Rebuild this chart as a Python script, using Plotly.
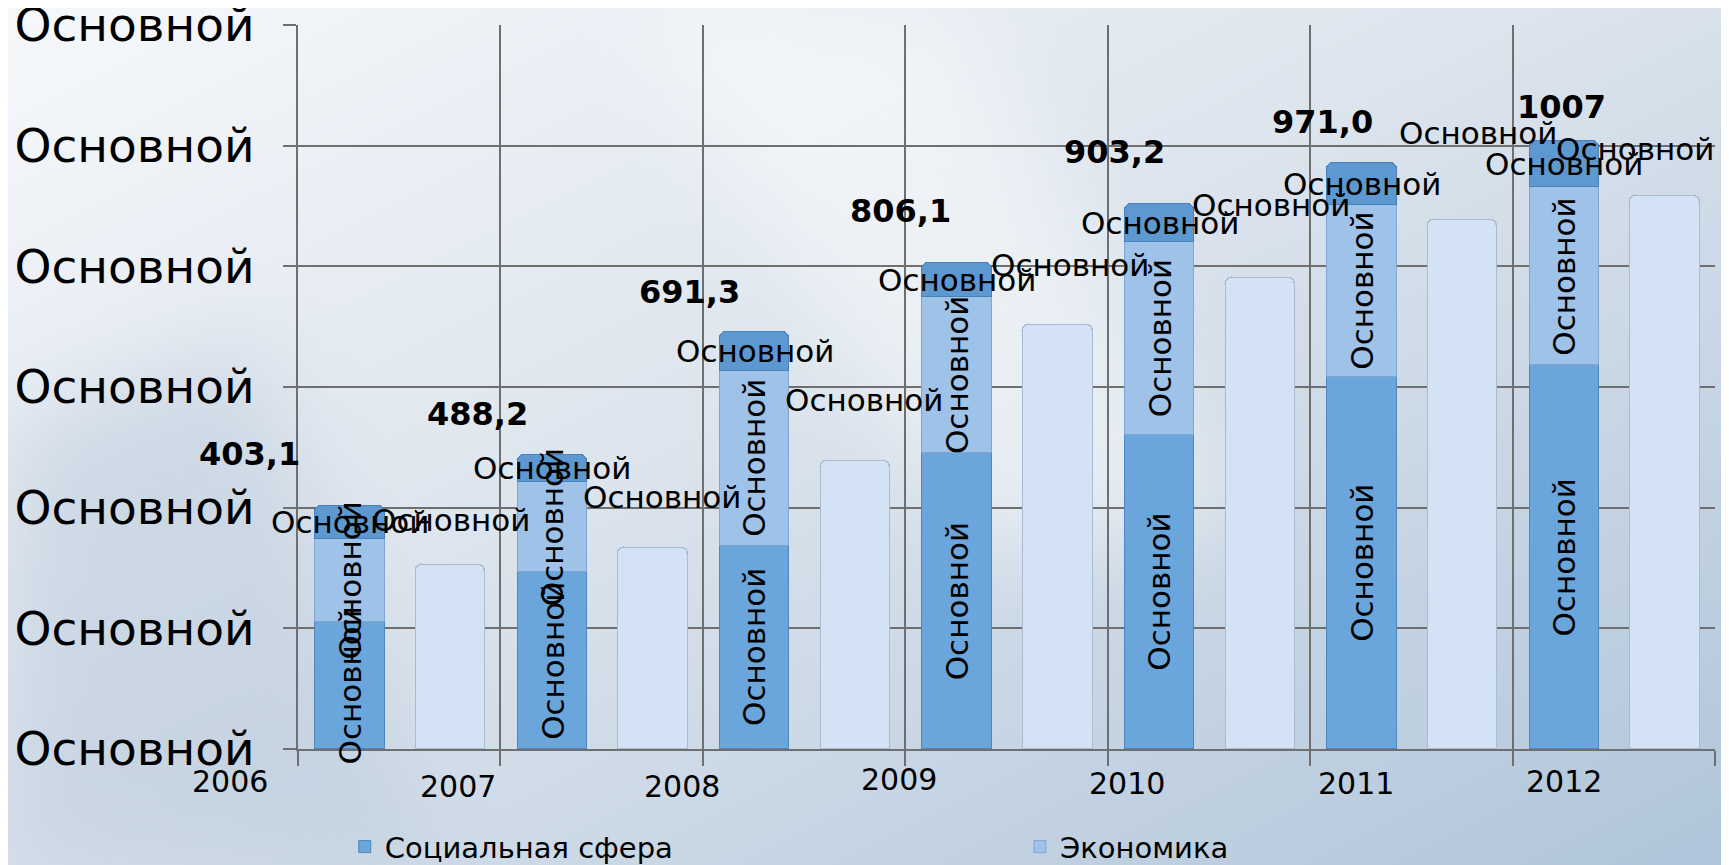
import base64
import plotly.graph_objects as go

# ---------------- data ----------------
years = ["2006", "2007", "2008", "2009", "2010", "2011", "2012"]
social = [210, 293, 337, 490, 520, 617, 636]        # Социальная сфера (bottom)
economy = [138, 150, 290, 260, 320, 285, 295]       # Экономика (middle)
other = [55, 45, 64, 56, 63, 69, 76]                # top segment
light = [305, 333, 477, 702, 781, 876, 916]         # light bars
total_labels = ["403,1", "488,2", "691,3", "806,1", "903,2", "971,0", "1007"]
seg_text = "Основной"
y_ticks = [0, 200, 400, 600, 800, 1000, 1200]
y_ticktext = ["Основной"] * 7

# ---------------- style / layout helpers ----------------
FONT = "DejaVu Sans"
n = len(years)
x_main = [i + 0.256 for i in range(n)]
x_light = [i + 0.754 for i in range(n)]
BW = 0.343
GRID = "#6f6f6f"

# label shifts (pixels)
tot_dx = [-100, -75, -65, -57, -45, -39, -3]
tot_dy = [52, 41, 40, 52, 52, 41, 34]
lt_dx = [0, 9, 9, 12, 11, 15, -30]
lt_dy = [45, 51, 61, 60, 73, 87, 47]
year_x = [-0.338, 0.79, 1.895, 2.968, 4.096, 5.229, 6.253]   # in category units
year_dy = [-32, -37, -37, -30, -34, -34, -32]

fig = go.Figure()
fig.add_bar(x=x_main, y=social, name="Социальная сфера", width=BW, legend="legend",
            marker=dict(color="#6aa6db", line=dict(color="#4f86bd", width=1)))
fig.add_bar(x=x_main, y=economy, name="Экономика", width=BW, legend="legend2",
            marker=dict(color="#9fc2e8", line=dict(color="#7fa6d2", width=1)))
fig.add_bar(x=x_main, y=other, name="Прочие", width=BW, showlegend=False,
            marker=dict(color="#5e98d0", line=dict(color="#4a80b8", width=1), cornerradius=7))
fig.add_bar(x=x_light, y=light, name="Всего", showlegend=False, width=BW,
            marker=dict(color="#d3e2f4", line=dict(color="#a9bbd0", width=1.5), cornerradius=7))

lab_font = dict(family=FONT, size=31, color="black")
ann = []
for i in range(n):
    s, e, o = social[i], economy[i], other[i]
    # segment labels (drawn above all bars, as in the reference)
    ann.append(dict(x=x_main[i], y=s / 2, xref="x", yref="y", text=seg_text,
                    textangle=-90, showarrow=False, font=lab_font))
    ann.append(dict(x=x_main[i], y=s + e / 2, xref="x", yref="y", text=seg_text,
                    textangle=-90, showarrow=False, font=lab_font))
    ann.append(dict(x=x_main[i], y=s + e + o / 2, xref="x", yref="y", text=seg_text,
                    showarrow=False, font=lab_font))
    ann.append(dict(x=x_main[i], y=s + e + o, xref="x", yref="y",
                    text="<b>%s</b>" % total_labels[i], showarrow=False,
                    xshift=tot_dx[i], yshift=tot_dy[i],
                    font=dict(family=FONT, size=32, color="black")))
    ann.append(dict(x=x_light[i], y=light[i], xref="x", yref="y", text=seg_text,
                    showarrow=False, xshift=lt_dx[i], yshift=lt_dy[i], font=lab_font))
    ann.append(dict(x=year_x[i] / 7.0, y=0, xref="paper", yref="paper", text=years[i],
                    showarrow=False, yshift=year_dy[i], xanchor="center", yanchor="middle",
                    font=dict(family=FONT, size=30, color="black")))

svg = """<svg xmlns='http://www.w3.org/2000/svg' width='1729' height='865' viewBox='0 0 1729 865' preserveAspectRatio='none'>
<defs><linearGradient id='g' x1='0' y1='0' x2='1' y2='1'>
<stop offset='0' stop-color='#f6f8fb'/><stop offset='0.45' stop-color='#dce4ed'/><stop offset='1' stop-color='#b0c5da'/></linearGradient>
<filter id='b' x='-50%' y='-50%' width='200%' height='200%'><feGaussianBlur stdDeviation='45'/></filter></defs>
<rect width='1729' height='865' fill='url(#g)'/>
<polygon points='620,0 950,0 1250,520 980,560' fill='white' opacity='0.45' filter='url(#b)'/>
<polygon points='0,420 250,330 420,865 0,865' fill='#b4c5d8' opacity='0.45' filter='url(#b)'/>
</svg>"""
src = "data:image/svg+xml;base64," + base64.b64encode(svg.encode("utf-8")).decode()

# figure is drawn inside an 8px body margin
L, R, T, B = 290, 14, 17, 116
W, H = 1721, 857
pw, ph = W - L - R, H - T - B

fig.update_layout(
    width=W, height=H, barmode="stack",
    margin=dict(l=L, r=R, t=T, b=B, autoexpand=False),
    paper_bgcolor="#dfe6ee", plot_bgcolor="rgba(0,0,0,0)",
    font=dict(family=FONT, color="black"),
    images=[dict(source=src, xref="paper", yref="paper", x=-L / pw, y=1 + T / ph,
                 sizex=W / pw, sizey=H / ph, sizing="stretch", xanchor="left",
                 yanchor="top", layer="below")],
    xaxis=dict(range=[0, 7], tickvals=list(range(8)), showticklabels=False,
               ticks="outside", ticklen=15, tickcolor=GRID, tickwidth=1.5,
               showgrid=True, gridcolor=GRID, gridwidth=2, automargin=False,
               showline=True, linecolor=GRID, linewidth=2, zeroline=False),
    yaxis=dict(range=[0, 1200], tickvals=y_ticks, ticktext=y_ticktext,
               tickfont=dict(family=FONT, size=47, color="black"),
               ticks="outside", ticklen=13, tickcolor=GRID, tickwidth=2,
               ticklabelstandoff=19, ticklabeloverflow="allow", automargin=False,
               showgrid=True, gridcolor=GRID, gridwidth=2,
               showline=True, linecolor=GRID, linewidth=2, zeroline=False),
    legend=dict(orientation="h", x=0.033, y=-0.135, xanchor="left", yanchor="middle",
                bgcolor="rgba(0,0,0,0)", font=dict(family=FONT, size=29, color="black")),
    legend2=dict(orientation="h", x=0.5095, y=-0.135, xanchor="left", yanchor="middle",
                 bgcolor="rgba(0,0,0,0)", font=dict(family=FONT, size=29, color="black")),
    annotations=ann, bargap=0,
)

fig.write_html("out.html")
